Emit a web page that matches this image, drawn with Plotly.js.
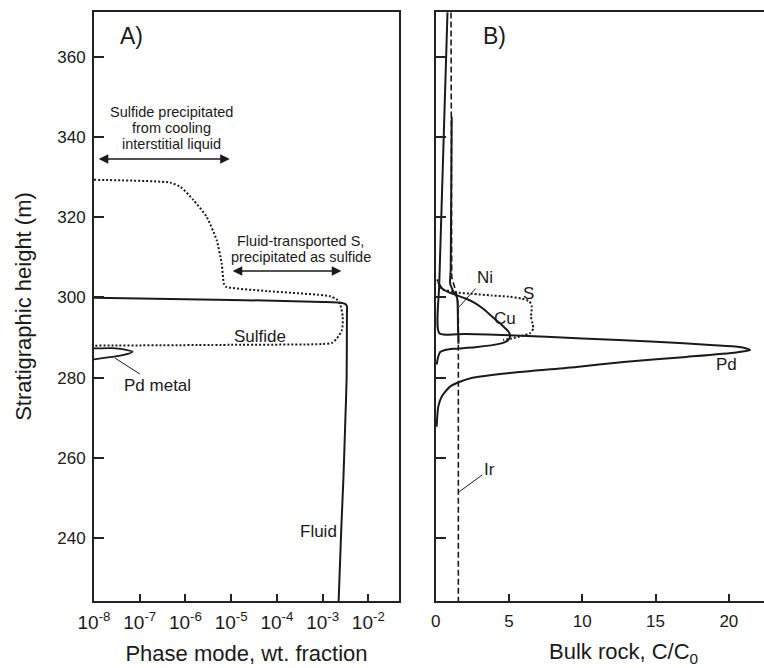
<!DOCTYPE html>
<html><head><meta charset="utf-8">
<script src="https://cdn.plot.ly/plotly-3.0.1.min.js"></script>
<style>html,body{margin:0;padding:0;background:#fff}#chart{width:764px;height:668px}</style>
</head><body><div id="chart"></div>
<script>
// ---------- Panel A: phase mode (wt. fraction, log scale) vs height (m) ----------
const fluidX = [1e-8, 1e-5, 1e-3, 2.5e-3, 3.1e-3, 3.4e-3, 3.4e-3, 3.35e-3, 3.15e-3, 2.85e-3, 2.55e-3, 2.24e-3];
const fluidY = [299.9, 299.4, 298.9, 298.7, 298.4, 297.8, 296.0, 280.0, 270.0, 255.0, 242.0, 224.4];

const sulfideX = [1e-8, 4.6e-7, 7.9e-7, 1.48e-6, 2.9e-6, 4.8e-6, 6.2e-6, 6.9e-6, 7.6e-6, 6.0e-5, 1.45e-3, 2.1e-3, 2.45e-3, 2.75e-3, 2.65e-3, 2.05e-3, 1.6e-3, 1e-3, 1e-5, 1e-8];
const sulfideY = [329.3, 328.6, 327.5, 324.3, 320.1, 314.3, 308.5, 303.5, 302.7, 301.6, 300.3, 299.4, 298.1, 295.2, 291.9, 289.8, 288.7, 288.4, 288.2, 288.0];

const pdMetalX = [1e-8, 2.5e-8, 4.5e-8, 7e-8, 4.5e-8, 2.5e-8, 1e-8];
const pdMetalY = [287.3, 287.4, 287.1, 286.5, 285.7, 285.2, 284.6];

// ---------- Panel B: bulk rock C/C0 vs height (m) ----------
const pdX = [0.8, 0.24, 0.24, 2.0, 5.0, 10.0, 15.0, 19.0, 20.6, 21.2, 21.45, 20.5, 17.1, 13.0, 9.6, 5.07, 2.5, 1.65, 0.97, 0.40, 0.17, 0.06];
const pdY = [371.0, 303.6, 291.1, 290.9, 290.6, 289.8, 289.0, 288.1, 287.7, 287.3, 286.9, 286.3, 285.2, 284.0, 282.7, 281.2, 280.0, 279.0, 277.8, 275.3, 272.8, 267.8];

const niX = [1.09, 1.02, 0.98, 1.2, 1.45, 1.5, 1.52, 1.55, 1.55];
const niY = [345.0, 307.0, 303.5, 301.5, 300.0, 297.0, 292.0, 290.0, 288.5];

const cuX = [0.15, 0.5, 1.31, 2.0, 2.68, 3.3, 3.82, 4.3, 4.72, 5.0, 5.07, 4.9, 4.4, 2.68, 1.2, 0.63, 0.3, 0.17, 0.06];
const cuY = [303.8, 302.0, 300.7, 299.8, 298.6, 297.0, 295.3, 293.8, 292.4, 291.3, 290.3, 289.2, 288.5, 287.6, 287.2, 286.9, 286.4, 285.3, 283.3];

const sX = [0.1, 0.4, 1.31, 2.5, 3.82, 5.0, 5.87, 6.4, 6.55, 6.5, 6.6, 6.66, 6.43, 5.87, 5.18, 4.6];
const sY = [304.5, 302.2, 301.3, 300.9, 300.5, 300.2, 299.7, 299.0, 297.7, 295.2, 293.5, 292.3, 291.1, 290.4, 289.8, 289.4];

const irX = [1.04, 1.09, 1.4, 1.5, 1.54, 1.54];
const irY = [371.0, 305.1, 301.1, 299.0, 295.0, 224.4];

// axis ticks / ranges
const heightRange = [224.4, 371.1];
const heightTicks = [240, 260, 280, 300, 320, 340, 360];
const modeLogRange = [-8, -1.33];
const modeTicks = [1e-8, 1e-7, 1e-6, 1e-5, 1e-4, 1e-3, 1e-2];
const modeTickText = ['10<sup>-8</sup>', '10<sup>-7</sup>', '10<sup>-6</sup>', '10<sup>-5</sup>', '10<sup>-4</sup>', '10<sup>-3</sup>', '10<sup>-2</sup>'];
const bulkRange = [0, 22.4];
const bulkTicks = [0, 5, 10, 15, 20];

const INK = '#1a1a1a';
const FONT = 'Liberation Sans, Arial, Helvetica, sans-serif';

function line(x, y, xa, ya, w, dash, shape) {
  return {x: x, y: y, xaxis: xa, yaxis: ya, type: 'scatter', mode: 'lines',
    line: {color: INK, width: w, dash: dash || 'solid', shape: shape || 'spline', smoothing: 0.6},
    hoverinfo: 'skip', showlegend: false};
}

const traces = [
  line(fluidX, fluidY, 'x', 'y', 2),
  line(sulfideX, sulfideY, 'x', 'y', 2, '2px,2px'),
  line(pdMetalX, pdMetalY, 'x', 'y', 1.8),
  line(pdX, pdY, 'x2', 'y2', 2),
  line(niX, niY, 'x2', 'y2', 2),
  line(cuX, cuY, 'x2', 'y2', 2),
  line(sX, sY, 'x2', 'y2', 2, '2px,2px'),
  line(irX, irY, 'x2', 'y2', 1.6, '6px,3px', 'linear')
];

function txt(x, y, t, size, xref, yref, extra) {
  return Object.assign({x: x, y: y, xref: xref || 'x', yref: yref || 'y', text: t, showarrow: false,
    font: {family: FONT, size: size, color: INK}, xanchor: 'center', yanchor: 'middle'}, extra || {});
}
function dbl(x0, x1, y) {
  return {x: x1, y: y, ax: x0, ay: y, xref: 'x', yref: 'y', axref: 'x', ayref: 'y', text: '',
    showarrow: true, arrowhead: 2, startarrowhead: 2, arrowside: 'end+start', arrowsize: 1.2, startarrowsize: 1.2,
    arrowwidth: 1.6, arrowcolor: INK, standoff: 0, startstandoff: 0};
}
function lead(x, y, ax, ay, t, xref, yref, size) {
  return {x: x, y: y, xref: xref, yref: yref, ax: ax, ay: ay, text: t, showarrow: true, arrowhead: 0,
    arrowwidth: 1, arrowcolor: INK, font: {family: FONT, size: size || 17, color: INK}};
}

const annotations = [
  txt(-7.18, 365.2, 'A)', 23),
  txt(4.04, 365.2, 'B)', 23, 'x2', 'y2'),
  txt(-6.31, 346.3, 'Sulfide precipitated', 14.5),
  txt(-6.31, 342.2, 'from cooling', 14.5),
  txt(-6.31, 338.2, 'interstitial liquid', 14.5),
  dbl(-7.93, -5.03, 334.5),
  txt(-3.48, 314.1, 'Fluid-transported S,', 14.5),
  txt(-3.48, 310.0, 'precipitated as sulfide', 14.5),
  dbl(-5.0, -2.59, 306.6),
  txt(-4.37, 290.4, 'Sulfide', 17),
  txt(-3.08, 241.8, 'Fluid', 17),
  lead(-7.54, 284.9, 42, 27, 'Pd metal', 'x', 'y'),
  lead(1.53, 297.4, 27, -30, 'Ni', 'x2', 'y2'),
  lead(1.6, 251.6, 30, -22, 'Ir', 'x2', 'y2'),
  txt(6.3, 301.1, 'S', 17, 'x2', 'y2'),
  txt(4.73, 294.8, 'Cu', 17, 'x2', 'y2'),
  txt(19.87, 283.2, 'Pd', 17, 'x2', 'y2'),
  txt(0.6757, -0.088, 'Bulk rock, C/C<sub>0</sub>', 22, 'paper', 'paper', {xanchor: 'left'})
];

const axCommon = {showline: true, linewidth: 2, linecolor: '#222', showgrid: false, zeroline: false,
  ticks: 'inside', tickwidth: 2, tickcolor: '#222', tickfont: {family: FONT, size: 17, color: INK}};

const layout = {
  width: 764, height: 668,
  margin: {l: 94, r: 0, t: 12, b: 67},
  paper_bgcolor: '#fff', plot_bgcolor: '#fff',
  font: {family: FONT, color: INK},
  xaxis: Object.assign({}, axCommon, {type: 'log', range: modeLogRange, domain: [0, 0.4552],
    tickvals: modeTicks, ticktext: modeTickText, tickfont: {family: FONT, size: 19, color: INK},
    ticklen: 7, mirror: true, anchor: 'y', ticklabelstandoff: 3,
    title: {text: 'Phase mode, wt. fraction', font: {family: FONT, size: 22, color: INK}, standoff: 14}}),
  yaxis: Object.assign({}, axCommon, {range: heightRange, tickvals: heightTicks, ticklen: 10, mirror: true,
    anchor: 'x', ticklabelstandoff: 3,
    title: {text: 'Stratigraphic height (m)', font: {family: FONT, size: 22, color: INK}, standoff: 20}}),
  xaxis2: Object.assign({}, axCommon, {range: bulkRange, domain: [0.5101, 1], tickvals: bulkTicks, ticklen: 7,
    mirror: true, anchor: 'y2', ticklabelstandoff: 4}),
  yaxis2: Object.assign({}, axCommon, {range: heightRange, tickvals: heightTicks, ticklen: 10,
    showticklabels: false, anchor: 'x2'}),
  annotations: annotations
};

Plotly.newPlot('chart', traces, layout, {staticPlot: true, displayModeBar: false});
</script>
</body></html>
